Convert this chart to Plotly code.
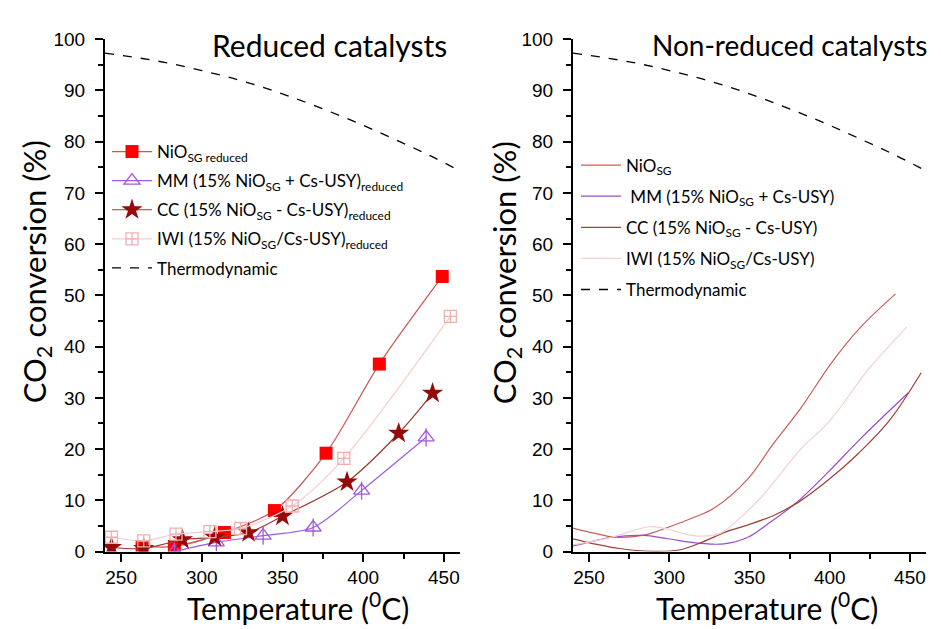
import plotly.graph_objects as go

# ---------------- data ----------------
thermo_T = [240, 260, 280, 300, 320, 340, 360, 380, 400, 420, 440, 460]
thermo_val = [97.3, 96.4, 95.3, 93.9, 92.3, 90.4, 88.2, 85.8, 83.2, 80.4, 77.5, 74.3]

# reduced catalysts (markers)
nio_red_T = [263, 283, 314, 345, 377, 410, 449]
nio_red = [1.0, 1.0, 3.7, 8.0, 19.2, 36.6, 53.7]
mm_red_T = [283, 309, 338, 369, 399, 439]
mm_red = [0.0, 1.8, 3.1, 4.7, 11.9, 22.3]
cc_red_T = [244, 264, 288, 308, 329, 350, 390, 422, 443]
cc_red = [0.8, 0.6, 2.3, 2.8, 3.7, 6.9, 13.6, 23.1, 30.9]
iwi_red_T = [244, 264, 284, 305, 324, 356, 388, 454]
iwi_red = [2.8, 2.1, 3.4, 3.9, 4.5, 8.9, 18.2, 45.9]

# non-reduced catalysts (smooth curves)
nio_T = [240, 253, 266, 284, 299, 314, 328, 349, 365, 382, 401, 419, 441]
nio = [4.6, 3.6, 2.8, 3.2, 4.7, 6.5, 8.5, 14.2, 21.1, 28.0, 36.8, 43.7, 50.3]
mm_T = [240, 252, 264, 284, 299, 320, 334, 349, 361, 380, 399, 420, 449]
mm = [1.1, 2.0, 2.8, 3.15, 2.5, 1.6, 1.5, 2.8, 5.3, 9.75, 15.5, 22.3, 31.0]
cc_T = [240, 255, 269, 289, 306, 321, 335, 350, 366, 381, 400, 418, 437, 457]
cc = [2.5, 1.4, 0.6, 0.05, 0.3, 1.9, 3.8, 5.3, 7.2, 9.75, 14.2, 19.2, 25.5, 34.9]
iwi_T = [240, 252, 264, 288, 299, 310, 320, 332, 349, 357, 365, 382, 400, 424, 448]
iwi = [1.3, 2.0, 2.8, 4.85, 4.4, 3.4, 3.0, 3.6, 8.0, 10.5, 13.5, 20.0, 25.5, 35.5, 43.8]

# ---------------- styles ----------------
RED_M = "#ff0000"
RED_L = "rgb(205,85,85)"
PURPLE = "rgb(160,90,225)"
STAR = "rgb(150,10,10)"
CC_L = "rgb(150,60,50)"
IWI_M = "rgb(240,175,175)"
IWI_L = "rgb(245,205,205)"

NR_NIO = "rgb(200,95,90)"
NR_MM = "rgb(155,75,205)"
NR_CC = "rgb(155,65,55)"
NR_IWI = "rgb(242,208,208)"

fig = go.Figure()

# left panel
fig.add_trace(go.Scatter(x=nio_red_T, y=nio_red, mode="lines+markers",
                         name="NiO<sub>SG reduced</sub>", legendgroup="a",
                         line=dict(color=RED_L, width=1.2, shape="spline", smoothing=0.8),
                         marker=dict(symbol="square", size=13, color=RED_M),
                         xaxis="x", yaxis="y", legend="legend"))
fig.add_trace(go.Scatter(x=mm_red_T, y=mm_red, mode="lines+markers",
                         name="MM (15% NiO<sub>SG</sub> + Cs-USY)<sub>reduced</sub>", legendgroup="b",
                         line=dict(color=PURPLE, width=1.2, shape="spline", smoothing=0.8),
                         marker=dict(symbol="triangle-up-open", size=14, color=PURPLE,
                                     line=dict(width=1.3, color=PURPLE)),
                         xaxis="x", yaxis="y", legend="legend"))
fig.add_trace(go.Scatter(x=mm_red_T, y=mm_red, mode="markers", showlegend=False,
                         marker=dict(symbol="line-ns-open", size=13, color=PURPLE,
                                     line=dict(width=1.3, color=PURPLE)),
                         xaxis="x", yaxis="y", hoverinfo="skip"))
fig.add_trace(go.Scatter(x=cc_red_T, y=cc_red, mode="lines+markers",
                         name="CC (15% NiO<sub>SG</sub> - Cs-USY)<sub>reduced</sub>", legendgroup="c",
                         line=dict(color=CC_L, width=1.2, shape="spline", smoothing=0.8),
                         marker=dict(symbol="star", size=16, color=STAR),
                         xaxis="x", yaxis="y", legend="legend"))
fig.add_trace(go.Scatter(x=iwi_red_T, y=iwi_red, mode="lines+markers",
                         name="IWI (15% NiO<sub>SG</sub>/Cs-USY)<sub>reduced</sub>", legendgroup="d",
                         line=dict(color=IWI_L, width=1.2, shape="spline", smoothing=0.8),
                         marker=dict(symbol="square-cross-open", size=12, color=IWI_M,
                                     line=dict(width=1.3, color=IWI_M)),
                         xaxis="x", yaxis="y", legend="legend"))
fig.add_trace(go.Scatter(x=thermo_T, y=thermo_val, mode="lines", name="Thermodynamic", legendgroup="e",
                         line=dict(color="black", width=1.3, dash="dash", shape="spline"),
                         xaxis="x", yaxis="y", legend="legend"))

# right panel
for xs, ys, nm, col, grp in [
    (nio_T, nio, "NiO<sub>SG</sub>", NR_NIO, "f"),
    (mm_T, mm, " MM (15% NiO<sub>SG</sub> + Cs-USY)", NR_MM, "g"),
    (cc_T, cc, "CC (15% NiO<sub>SG</sub> - Cs-USY)", NR_CC, "h"),
    (iwi_T, iwi, "IWI (15% NiO<sub>SG</sub>/Cs-USY)", NR_IWI, "i"),
]:
    fig.add_trace(go.Scatter(x=xs, y=ys, mode="lines", name=nm, legendgroup=grp,
                             line=dict(color=col, width=1.2, shape="spline", smoothing=1.0),
                             xaxis="x2", yaxis="y2", legend="legend2"))
fig.add_trace(go.Scatter(x=thermo_T, y=thermo_val, mode="lines", name="Thermodynamic", legendgroup="j",
                         line=dict(color="black", width=1.3, dash="dash", shape="spline"),
                         xaxis="x2", yaxis="y2", legend="legend2"))

TICKFONT = dict(family="Liberation Sans, Arial, sans-serif", size=19, color="black")


def xax(domain, anchor):
    return dict(domain=domain, anchor=anchor, range=[240, 460], tick0=250, dtick=50,
                showline=True, linecolor="black", linewidth=2, ticks="outside",
                ticklen=8, tickwidth=2, tickcolor="black", showgrid=False, zeroline=False,
                tickfont=TICKFONT, ticklabelstandoff=0,
                minor=dict(ticks="outside", ticklen=5, tickwidth=2, tickcolor="black",
                           dtick=25, tick0=250, showgrid=False))


def yax(domain, anchor):
    return dict(domain=domain, anchor=anchor, range=[0, 100], tick0=0, dtick=10,
                showline=True, linecolor="black", linewidth=2, ticks="outside",
                ticklen=8, tickwidth=2, tickcolor="black", showgrid=False, zeroline=False,
                tickfont=TICKFONT, ticklabelstandoff=6,
                minor=dict(ticks="outside", ticklen=5, tickwidth=2, tickcolor="black",
                           dtick=5, tick0=0, showgrid=False))


ydom = [1 - 552 / 629, 1 - 22 / 629]
LEGFONT = dict(family="Lato, Open Sans, sans-serif", size=17, color="black")


def ann(text, x, y, size, anchor="center", angle=0):
    return dict(text=text, x=x / 941, y=1 - y / 629, xref="paper", yref="paper",
                xanchor=anchor, yanchor="middle", showarrow=False, textangle=angle,
                font=dict(family="Lato, Open Sans, sans-serif", size=size, color="black"))


fig.update_layout(
    width=941, height=629,
    margin=dict(l=0, r=0, t=0, b=0),
    paper_bgcolor="white", plot_bgcolor="white",
    xaxis=xax([97 / 941, 452 / 941], "y"),
    yaxis=yax(ydom, "x"),
    xaxis2=xax([565 / 941, 918 / 941], "y2"),
    yaxis2=yax(ydom, "x2"),
    legend=dict(x=99 / 941, y=1 - 120 / 629, xanchor="left", yanchor="top",
                bgcolor="rgba(0,0,0,0)", font=LEGFONT, tracegroupgap=4, itemwidth=40),
    legend2=dict(x=568 / 941, y=1 - 134 / 629, xanchor="left", yanchor="top",
                 bgcolor="rgba(0,0,0,0)", font=LEGFONT, tracegroupgap=6, itemwidth=40),
    annotations=[
        ann("Reduced catalysts", 202, 28, 30, "left"),
        ann("Non-reduced catalysts", 642, 28, 28, "left"),
        ann("Temperature (<sup>0</sup>C)", 290, 608, 30),
        ann("Temperature (<sup>0</sup>C)", 759, 608, 30),
        ann("CO<sub>2</sub> conversion (%)", 28, 263, 31, angle=-90),
        ann("CO<sub>2</sub> conversion (%)", 498, 263, 31, angle=-90),
    ],
)

fig.write_html("out.html")
